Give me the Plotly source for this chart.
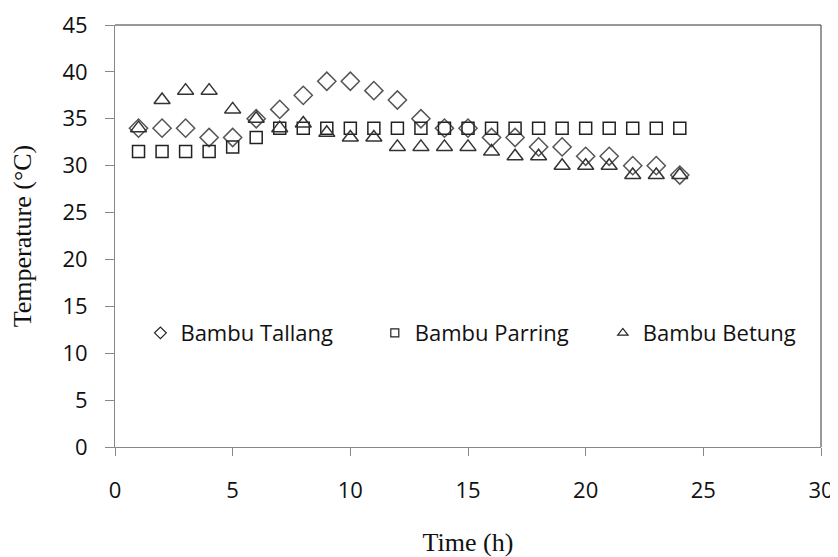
import plotly.graph_objects as go

hours = list(range(1, 25))
tallang = [34, 34, 34, 33, 33, 35, 36, 37.5, 39, 39, 38, 37, 35, 34, 34, 33, 33, 32, 32, 31, 31, 30, 30, 29]
parring = [31.5, 31.5, 31.5, 31.5, 32, 33, 34, 34, 34, 34, 34, 34, 34, 34, 34, 34, 34, 34, 34, 34, 34, 34, 34, 34]
betung = [34, 37, 38, 38, 36, 35, 34, 34.5, 33.5, 33, 33, 32, 32, 32, 32, 31.5, 31, 31, 30, 30, 30, 29, 29, 29]

series_names = ["Bambu Tallang", "Bambu Parring", "Bambu Betung"]
x_ticks = [0, 5, 10, 15, 20, 25, 30]
y_ticks = [0, 5, 10, 15, 20, 25, 30, 35, 40, 45]

symbols = ["diamond-open", "square-open", "triangle-up-open"]
sizes = [14, 12, 14]
legend_sizes = [9, 8, 9]
colors = ["#555555", "#222222", "#333333"]
values = [tallang, parring, betung]
legend_ids = ["legend", "legend2", "legend3"]
legend_x = [0.036, 0.368, 0.691]

fig = go.Figure()
for name, vals, sym, sz, col in zip(series_names, values, symbols, sizes, colors):
    fig.add_trace(go.Scatter(x=hours, y=vals, mode="markers", name=name, showlegend=False,
                             marker=dict(symbol=sym, size=sz, color=col, line=dict(width=1.5, color=col))))
# legend entries with small glyph-size symbols, one legend box per entry
for name, sym, lsz, lid in zip(series_names, symbols, legend_sizes, legend_ids):
    fig.add_trace(go.Scatter(x=[None], y=[None], mode="markers", name=name, legend=lid,
                             marker=dict(symbol=sym, size=lsz, color="#222222", line=dict(width=1.2, color="#222222"))))

legfont = dict(family="Open Sans, Noto Sans, sans-serif", size=22, color="#111111")
legends = {}
for lid, lx in zip(legend_ids, legend_x):
    legends[lid] = dict(orientation="h", x=lx, y=0.27, xanchor="left", yanchor="middle",
                        font=legfont, bgcolor="rgba(0,0,0,0)", itemsizing="trace")

tickfont = dict(family="Open Sans, Noto Sans, sans-serif", size=22, color="#111111")
titlefont = dict(family="Liberation Serif, Times New Roman, serif", size=26, color="#111111")
# page body has an 8px margin, so the figure is sized 8px smaller and offset
fig.update_layout(
    width=830, height=549,
    margin=dict(l=107, r=17, t=17, b=110),
    paper_bgcolor="white", plot_bgcolor="white",
    showlegend=True,
    **legends,
    xaxis=dict(range=[0, 30], tickvals=x_ticks, showgrid=False, zeroline=False,
               showline=True, linecolor="#888888", linewidth=1, ticks="outside", ticklen=8,
               tickcolor="#888888", tickfont=tickfont, ticklabelstandoff=16, automargin=False,
               title=dict(text="Time (h)", font=titlefont, standoff=35)),
    yaxis=dict(range=[0, 45], tickvals=y_ticks, showgrid=False, zeroline=False,
               showline=True, linecolor="#888888", linewidth=1, ticks="outside", ticklen=9,
               tickcolor="#888888", tickfont=tickfont, ticklabelstandoff=13, automargin=False,
               title=dict(text="Temperature (°C)", font=titlefont, standoff=26)),
    shapes=[
        dict(type="line", xref="paper", yref="paper", x0=0, x1=1, y0=1, y1=1, line=dict(color="#333333", width=1)),
        dict(type="line", xref="paper", yref="paper", x0=1, x1=1, y0=0, y1=1, line=dict(color="#333333", width=1)),
    ],
)

fig.write_html("out.html")
